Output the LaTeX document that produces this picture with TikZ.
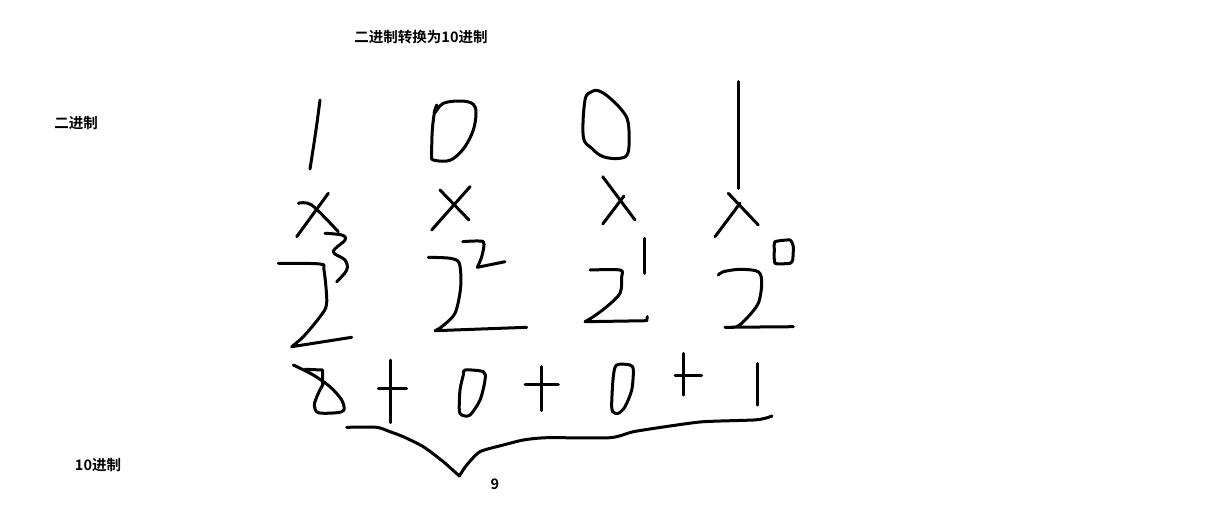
\documentclass[tikz,border=0pt]{standalone}
\usepackage{fontspec}
\newfontfamily\cjk{Noto Sans CJK SC}[BoldFont={Noto Sans CJK SC Bold}]
\begin{document}
\begin{tikzpicture}[x=1pt,y=-1pt,
  ink/.style={line width=3pt,line cap=round,line join=round},
  lbl/.style={font=\cjk\bfseries\fontsize{14.5}{16}\selectfont,inner sep=0pt}]
\useasboundingbox (0,0) rectangle (1225,515);
% labels
\node[lbl] (title) at (421,37) {二进制转换为10进制};
\node[lbl] (bin) at (76,123) {二进制};
\node[lbl] (dec) at (98,465) {10进制};
\node[lbl] (nine) at (495,484) {9};
% column 1: 1 x 2^3
\draw[ink] plot[smooth] coordinates {(320,100) (316,130) (310,169)};
\draw[ink] (328.3,193.3) -- (296.7,236.7);
\draw[ink] plot[smooth] coordinates {(298.3,203.3) (311.7,205) (338.3,231.7)};
\draw[ink] plot[smooth,tension=0.6] coordinates {(325,233.3) (341.7,235) (345,240) (333.3,251.7) (345,260) (346.7,270) (336.7,281.7)};
\draw[ink] plot[smooth,tension=0.5] coordinates {(278.3,263.3) (320,264) (324,270) (326.7,303.3) (320,316.7) (303.3,336.7) (291.7,346.7)} -- (351.7,337.3);
% column 2: 0 x 2^2
\draw[ink] plot[smooth,tension=0.6] coordinates {(436.7,105) (434.3,113.3) (443.3,103.3) (461.7,101) (473.3,104.3) (476,113.3) (473.3,130) (465,146.7) (455,157.3) (446.7,161) (433.3,160) (431.7,155) (432.3,130) (434.3,113.3)};
\draw[ink] (470,186.7) -- (431.7,230);
\draw[ink] (440,190) -- (469,220);
\draw[ink] plot[smooth,tension=0.4] coordinates {(462.7,241.7) (483.3,241.7) (481.7,256.7) (477.3,267.3)} -- (505,261.7);
\draw[ink] plot[smooth,tension=0.5] coordinates {(428.3,257.3) (450,258.3) (459.3,263.3) (460.7,286.7) (455,313.3) (441.7,326.7) (435,330.7)} -- (526.7,327.3);
% column 3: 0 x 2^1
\draw[ink] plot[smooth cycle,tension=0.6] coordinates {(591.7,91.7) (585,100) (583.3,136.7) (591.7,148.3) (603.3,156.7) (620,158.3) (628.3,151.7) (628.3,123.3) (621.7,110) (608.3,96.7) (598.3,90.7)};
\draw[ink] (602.7,176.7) -- (635,220);
\draw[ink] (602.7,224) -- (624,196);
\draw[ink] (644,238.3) -- (644,273.3);
\draw[ink] plot[smooth,tension=0.5] coordinates {(590,270) (620,270) (621.7,276.7) (620,293.3) (606.7,306.7) (593.3,316.7) (585,321.7)} -- (646.7,320.7) -- (647.3,316.7);
% column 4: 1 x 2^0
\draw[ink] (738.3,81.7) -- (738.3,188.3);
\draw[ink] (728.3,193.3) -- (758.3,225);
\draw[ink] (740,203.3) -- (715,236.7);
\draw[ink] plot[smooth cycle,tension=0.3] coordinates {(775,241.7) (790,240) (793.3,246.7) (792.7,260) (790,263.3) (775,263.3) (774.3,250)};
\draw[ink] plot[smooth,tension=0.5] coordinates {(718.3,275) (723.3,271.7) (740,269.3) (758.3,271.7) (761.7,283.3) (758.3,303.3) (746.7,318.3) (736.7,326.7) (725,327.3)} -- (793.3,326.7);
% sum row: 8 + 0 + 0 + 1
\draw[ink] plot[smooth,tension=0.5] coordinates {(293.3,365) (313.3,375) (330,386.7) (341.7,400) (344,410) (336.7,412.7) (318.3,412.7) (314.3,405) (318.3,393.3) (322.7,385)} -- (322.7,370) -- (305,369.3);
\draw[ink] (390.7,360) -- (390.7,422.7);
\draw[ink] (378.3,388.3) -- (406.7,388.3);
\draw[ink] plot[smooth cycle,tension=0.5] coordinates {(465,370) (483.3,371.7) (485,380) (480,400) (470,415) (461.7,415) (459.3,410) (460,390) (463.3,375)};
\draw[ink] (541.7,366.7) -- (541.7,410.7);
\draw[ink] (525,384.3) -- (558.3,384.3);
\draw[ink] plot[smooth cycle,tension=0.5] coordinates {(616.7,365) (630,365) (633.3,370) (631.7,390) (625,406.7) (618.3,413.3) (612.7,411.7) (611.7,403.3) (613.3,376.7)};
\draw[ink] (683.3,353.3) -- (683.3,395);
\draw[ink] (675,375) -- (701.7,375);
\draw[ink] (757,363.3) -- (757,405);
% brace
\draw[ink] plot[smooth,tension=0.4] coordinates {(346.7,427.3) (376.7,427.3) (390,431.7) (403.3,436.7) (423.3,446.7) (443.3,461.7) (459.3,476)};
\draw[ink] plot[smooth,tension=0.4] coordinates {(459.3,476) (466.7,465) (480,451.7) (503.3,445) (523.3,440) (546.7,437.7) (610,437.7) (633.3,431.7) (670,426) (703.3,421.7) (753.3,420) (765,418.3) (772,416)};
\end{tikzpicture}
\end{document}
